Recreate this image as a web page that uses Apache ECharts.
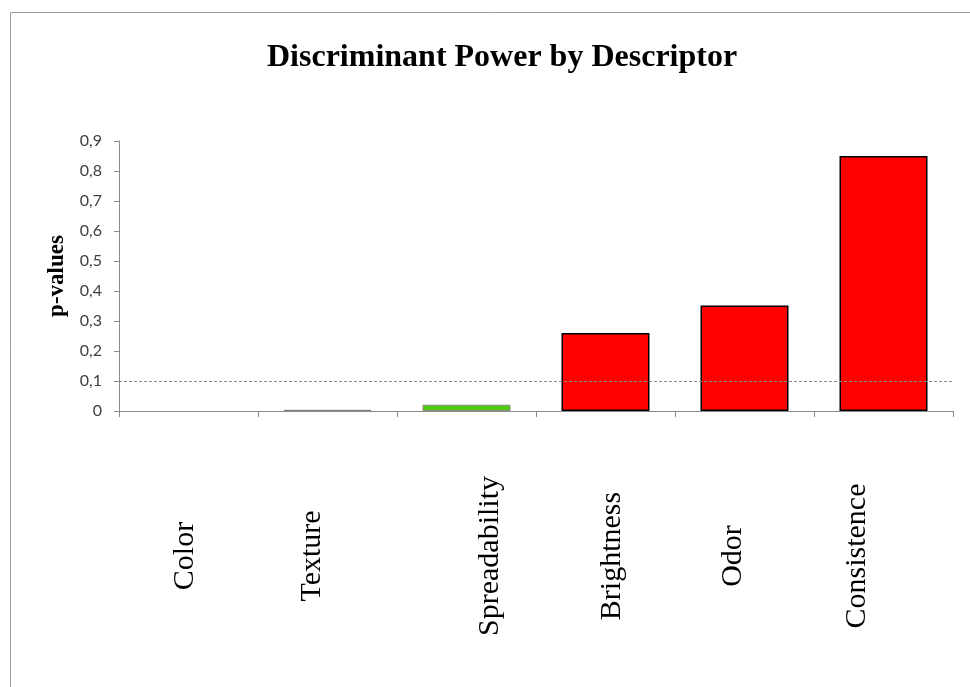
<!DOCTYPE html>
<html>
<head>
<meta charset="utf-8">
<script src="https://cdn.jsdelivr.net/npm/echarts@6/dist/echarts.min.js"></script>
<style>
  html, body { margin: 0; padding: 0; background: #fff; }
  #main { width: 970px; height: 687px; }
</style>
</head>
<body>
<div id="main"></div>
<script>
// descriptors and their p-values
const descriptors = ['Color', 'Texture', 'Spreadability', 'Brightness', 'Odor', 'Consistence']
const pValues = [0, 0.004, 0.021, 0.26, 0.352, 0.85]
const barColors = ['none', '#808080', '#4fcc0a', '#ff0000', '#ff0000', '#ff0000']
const barBorders = ['none', '#808080', '#8c8c8c', '#000000', '#000000', '#000000']
const threshold = 0.1
// sideways shifts of the rotated category labels (px)
const labelShift = [-3, -15, 24, 7, -11, -26]

const chart = echarts.init(document.getElementById('main'))

const axisGray = '#8a8a8a'

const option = {
  animation: false,
  title: {
    text: 'Discriminant Power by Descriptor',
    left: 262,
    top: 37,
    textStyle: {
      fontFamily: 'Liberation Serif',
      fontWeight: 'bold',
      fontSize: 32,
      color: '#000'
    }
  },
  grid: {
    left: 119,
    right: 17,
    top: 141,
    bottom: 276,
    containLabel: false,
    outerBoundsMode: 'none'
  },
  xAxis: {
    type: 'category',
    data: descriptors,
    axisLine: { lineStyle: { color: axisGray } },
    axisTick: { show: true, length: 6, lineStyle: { color: axisGray } },
    axisLabel: { show: false }
  },
  yAxis: {
    type: 'value',
    min: 0,
    max: 0.9,
    interval: 0.1,
    name: 'p-values',
    nameLocation: 'middle',
    nameGap: 46,
    nameTextStyle: {
      fontFamily: 'Liberation Serif',
      fontWeight: 'bold',
      fontSize: 23,
      color: '#000'
    },
    splitLine: { show: false },
    axisLine: { show: true, lineStyle: { color: axisGray } },
    axisTick: { show: true, length: 5, lineStyle: { color: axisGray } },
    axisLabel: {
      margin: 17,
      fontFamily: 'Lato',
      fontSize: 16,
      color: '#404040',
      formatter: v => v === 0 ? '0' : v.toFixed(1).replace('.', ',')
    }
  },
  series: [{
    type: 'bar',
    barWidth: 88,
    data: pValues.map((v, i) => ({
      value: v,
      itemStyle: {
        color: barColors[i],
        borderColor: barBorders[i],
        borderWidth: i >= 3 ? 1.5 : 1
      }
    })),
    markLine: {
      silent: true,
      symbol: 'none',
      label: { show: false },
      lineStyle: { color: '#8a8a8a', type: [3, 2], width: 1 },
      data: [{ yAxis: threshold }]
    }
  }]
}

chart.setOption(option)

// rotated category labels, placed from the axis scale
const zeroY = chart.convertToPixel({ yAxisIndex: 0 }, 0)
const labels = descriptors.map((d, i) => ({
  type: 'text',
  x: chart.convertToPixel({ xAxisIndex: 0 }, d) + labelShift[i],
  y: zeroY + 145,
  rotation: Math.PI / 2,
  silent: true,
  style: {
    text: d,
    fontFamily: 'Liberation Serif',
    fontSize: 30,
    fill: '#000',
    align: 'center',
    verticalAlign: 'middle'
  }
}))

chart.setOption({
  graphic: [{
    type: 'rect',
    shape: { x: 10.5, y: 12.5, width: 1000, height: 1000 },
    style: { fill: 'none', stroke: '#9a9a9a', lineWidth: 1 },
    silent: true
  }].concat(labels)
})
</script>
</body>
</html>
